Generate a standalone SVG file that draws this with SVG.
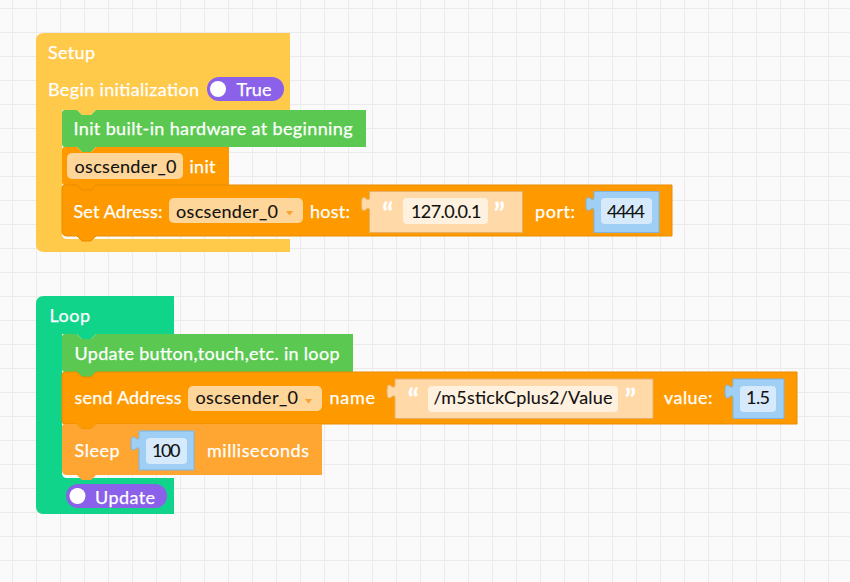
<svg xmlns="http://www.w3.org/2000/svg" width="850" height="582" viewBox="0 0 850 582">
<defs>
<pattern id="grid" patternUnits="userSpaceOnUse" x="12" y="8" width="24" height="24">
<rect width="24" height="24" fill="#fafafa"/>
<path d="M0,0 H24 M0,0 V24" stroke="#ebebeb" stroke-width="2" fill="none"/>
</pattern>
</defs>
<style>
text{font-family:Lato,"Noto Sans","DejaVu Sans",sans-serif;font-size:18px}
.w{fill:#ffffff;stroke:#ffffff;stroke-width:0.25}
.k{fill:#111111;stroke:#111111;stroke-width:0.1}
.q{fill:#ffffff;font-size:30px;font-weight:bold}
.setup{fill:#ffc94a}
.loop{fill:#10d48a}
.grn{fill:#5bc951}
.org{fill:#fe9a00;stroke:#e88c00;stroke-width:1}
.org2{fill:#fe9a00}
.slp{fill:#fea532}
.fld{fill:#ffd699}
.str{fill:#ffd9a8;stroke:#e9b06b;stroke-width:1}
.strf{fill:#fff1df}
.num{fill:#9fcff5;stroke:#7fb5e0;stroke-width:1}
.numf{fill:#d6eafb}
.pill{fill:#8a61e8}
.arr{fill:#f7a232}
</style>
<rect width="850" height="582" fill="url(#grid)"/>
<g id="connectors"/>

<g id="setup">
<path class="setup" d="M36,41 Q36,33 44,33 H290 V110 H96 l-5,5 h-9 l-5,-5 H62 V234 Q62,239 67,239 H290 V252 H44 Q36,252 36,244 Z"/>
<text class="w" x="48" y="59" textLength="47">Setup</text>
<text class="w" x="48" y="96" textLength="151">Begin initialization</text>
<g id="toggle-true">
<rect class="pill" x="207" y="77" width="77" height="24" rx="12"/>
<circle cx="218" cy="89" r="8" fill="#fff"/>
<text class="w" x="236.5" y="96" textLength="35">True</text>
</g>
</g>

<g id="init-hardware">
<path class="grn" d="M62,113 Q62,110 65,110 H77 l5,5 h9 l5,-5 H366 V147 H96 l-5,5 h-9 l-5,-5 H65 Q62,147 62,144 Z"/>
<text class="w" x="73.5" y="135" textLength="279">Init built-in hardware at beginning</text>
</g>

<g id="osc-init">
<path class="org2" d="M62,150 Q62,147 65,147 H77 l5,5 h9 l5,-5 H229 V185 H96 l-5,5 h-9 l-5,-5 H65 Q62,185 62,182 Z"/>
<rect class="fld" x="67" y="153" width="116" height="26" rx="5"/>
<text class="k" x="74.5" y="173" textLength="102">oscsender_0</text>
<text class="w" x="189.5" y="173" textLength="26">init</text>
</g>

<g id="set-address">
<path class="org" d="M62,188 Q62,185 65,185 H77 l5,5 h9 l5,-5 H672 V236 H96 l-5,5 h-9 l-5,-5 H67 Q62,236 62,231 Z"/>
<text class="w" x="73.5" y="218" textLength="89">Set Adress:</text>
<rect class="fld" x="169" y="198" width="134" height="25" rx="5"/>
<text class="k" x="176" y="218" textLength="102">oscsender_0</text>
<path class="arr" d="M286,211 h7 l-3.5,4.5 z"/>
<text class="w" x="310" y="218" textLength="40">host:</text>
<g id="host-string">
<path class="str" d="M369.5,191.5 H522.5 V232.5 H369.5 V211.5 c0,-10 -8,8 -8,-7.5 s8,2.5 8,-7.5 Z"/>
<text class="q" x="382" y="225">“</text>
<rect class="strf" x="403" y="198" width="85" height="26" rx="4"/>
<text class="k" x="411" y="218" textLength="70.5">127.0.0.1</text>
<text class="q" x="493.5" y="225">”</text>
</g>
<text class="w" x="535" y="218" textLength="40">port:</text>
<g id="port-number">
<path class="num" d="M594,191.5 H659 V232.5 H594 V211.5 c0,-10 -8,8 -8,-7.5 s8,2.5 8,-7.5 Z"/>
<rect class="numf" x="601" y="198" width="51" height="26" rx="4"/>
<text class="k" x="607" y="218" textLength="38">4444</text>
</g>
</g>

<g id="loop">
<path class="loop" d="M36,304 Q36,296 44,296 H174 V334 H96 l-5,5 h-9 l-5,-5 H62 V473 Q62,478 67,478 H174 V514 H44 Q36,514 36,506 Z"/>
<text class="w" x="49.5" y="322" textLength="40.5">Loop</text>
<g id="toggle-update">
<rect class="pill" x="66" y="484" width="101" height="24" rx="12"/>
<circle cx="77.5" cy="496" r="8" fill="#fff"/>
<text class="w" x="95" y="504" textLength="60">Update</text>
</g>
</g>

<g id="update-button">
<path class="grn" d="M62,337 Q62,334 65,334 H77 l5,5 h9 l5,-5 H353 V372 H96 l-5,5 h-9 l-5,-5 H65 Q62,372 62,369 Z"/>
<text class="w" x="74.5" y="360" textLength="265">Update button,touch,etc. in loop</text>
</g>

<g id="send-address">
<path class="org" d="M62,375 Q62,372 65,372 H77 l5,5 h9 l5,-5 H797 V424 H96 l-5,5 h-9 l-5,-5 H65 Q62,424 62,421 Z"/>
<text class="w" x="74.5" y="404" textLength="107">send Address</text>
<rect class="fld" x="188" y="386" width="134" height="25" rx="5"/>
<text class="k" x="195.5" y="404" textLength="102.5">oscsender_0</text>
<path class="arr" d="M305,399 h7 l-3.5,4.5 z"/>
<text class="w" x="329.5" y="404" textLength="45.5">name</text>
<g id="name-string">
<path class="str" d="M395,379 H653 V418.5 H395 V399 c0,-10 -8,8 -8,-7.5 s8,2.5 8,-7.5 Z"/>
<text class="q" x="407.5" y="411">“</text>
<rect class="strf" x="428" y="386" width="190" height="26" rx="4"/>
<text class="k" x="433.5" y="404" textLength="179">/m5stickCplus2/Value</text>
<text class="q" x="624.5" y="411">”</text>
</g>
<text class="w" x="664" y="404" textLength="48.5">value:</text>
<g id="value-number">
<path class="num" d="M733,379 H784 V418.5 H733 V399 c0,-10 -8,8 -8,-7.5 s8,2.5 8,-7.5 Z"/>
<rect class="numf" x="740" y="386" width="36" height="26" rx="4"/>
<text class="k" x="746" y="404" textLength="24">1.5</text>
</g>
</g>

<g id="sleep">
<path class="slp" d="M62,427 Q62,424 65,424 H77 l5,5 h9 l5,-5 H322 V475 H96 l-5,5 h-9 l-5,-5 H67 Q62,475 62,470 Z"/>
<text class="w" x="74.5" y="457" textLength="45">Sleep</text>
<g id="sleep-number">
<path class="num" d="M139,431 H194 V470 H139 V451 c0,-10 -8,8 -8,-7.5 s8,2.5 8,-7.5 Z"/>
<rect class="numf" x="146" y="438" width="41" height="26" rx="4"/>
<text class="k" x="152" y="457" textLength="28.5">100</text>
</g>
<text class="w" x="207" y="457" textLength="102">milliseconds</text>
</g>
</svg>
